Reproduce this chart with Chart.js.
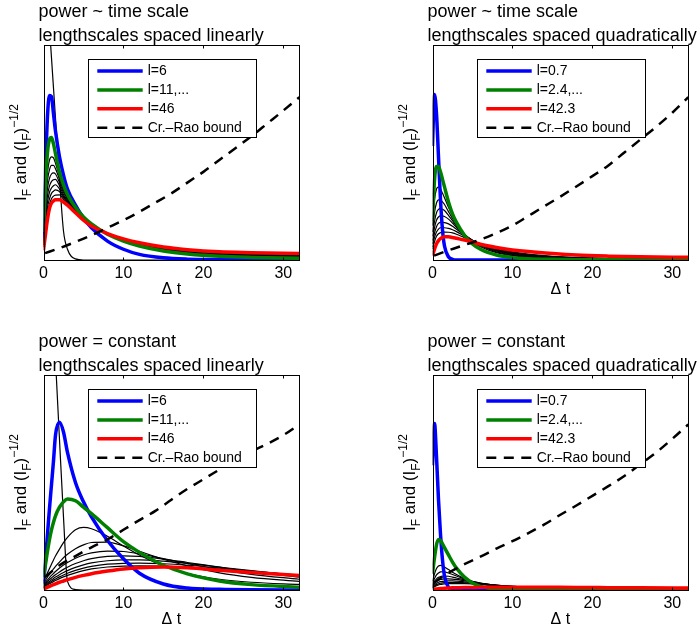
<!DOCTYPE html>
<html>
<head>
<meta charset="utf-8">
<script src="https://cdn.jsdelivr.net/npm/chart.js@4.4.0/dist/chart.umd.min.js"></script>
<style>
body { margin: 0; background: #fff; }
#wrap { position: relative; width: 700px; height: 632px; overflow: hidden; background: #fff; }
canvas { position: absolute; }
</style>
</head>
<body>
<div id="wrap">
<canvas id="c1" width="311" height="302" style="left:0px;top:0px"></canvas>
<canvas id="c2" width="311" height="302" style="left:389px;top:0px"></canvas>
<canvas id="c3" width="311" height="302" style="left:0px;top:330px"></canvas>
<canvas id="c4" width="311" height="302" style="left:389px;top:330px"></canvas>
</div>
<script>
// delta t samples for the I_F curves, and for the Cramer-Rao bound
const dt = [0, 0.25, 0.5, 0.75, 1, 1.25, 1.5, 2, 2.5, 3, 4, 5, 6, 8, 10, 12, 15, 18, 22, 26, 32];
const dtBound = [0.2, 2, 4, 6, 8, 10, 12, 14, 16, 18, 20, 22, 24, 26, 28, 30, 32];
const xTicks = [0, 10, 20, 30];

const labelsLinear = ['l=6', 'l=11,...', 'l=46', 'Cr.\u2013Rao bound'];
const labelsQuad = ['l=0.7', 'l=2.4,...', 'l=42.3', 'Cr.\u2013Rao bound'];
const titleTL = ['power ~ time scale', 'lengthscales spaced linearly'];
const titleTR = ['power ~ time scale', 'lengthscales spaced quadratically'];
const titleBL = ['power = constant', 'lengthscales spaced linearly'];
const titleBR = ['power = constant', 'lengthscales spaced quadratically'];

// top left: power ~ time scale, linear spacing
const tlBlue = [10, 42, 67, 76.5, 76, 68, 60, 48, 39.5, 33, 25.5, 19.5, 15, 8.8, 5, 2.6, 1, 0.4, 0.2, 0.1, 0.1];
const tlGreen = [13, 35, 50, 56, 57, 54, 49.5, 41, 35, 30.5, 24.5, 20, 16.8, 12, 8.8, 6.5, 4.2, 2.8, 1.7, 1.2, 0.8];
const tlRed = [4.5, 12, 19, 24, 26.5, 27.5, 28, 28, 27, 25.5, 22, 18.5, 15.8, 12.3, 9.8, 8, 6, 4.8, 3.8, 3.4, 3.0];
const tlSteep = [150, 136, 122, 108, 94, 80, 66, 38, 13.5, 5, 0.5, 0, 0, 0, 0, 0, 0, 0, 0, 0, 0];
const tlBlack = [
    [12, 30, 41, 46.5, 48, 47.5, 45, 39, 33.5, 29.8, 24.2, 19.8, 16.6, 11.9, 8.8, 6.5, 4.2, 2.9, 1.9, 1.5, 1.2],
    [11, 27, 37, 42, 44, 44, 42.5, 37.5, 32.5, 29.2, 23.9, 19.6, 16.5, 11.95, 9, 6.8, 4.6, 3.2, 2.2, 1.7, 1.4],
    [10, 24, 33.5, 38, 40, 40.5, 40, 36, 31.5, 28.5, 23.6, 19.4, 16.4, 12, 9.2, 7, 4.9, 3.5, 2.5, 1.9, 1.6],
    [9, 21, 30, 34.5, 36.5, 37.3, 37.5, 34.5, 30.5, 27.9, 23.3, 19.2, 16.3, 12.05, 9.3, 7.2, 5.1, 3.8, 2.8, 2.2, 1.9],
    [8, 19, 27, 31.5, 33.5, 34.5, 35, 33, 29.7, 27.3, 23, 19, 16.2, 12.1, 9.4, 7.3, 5.3, 4, 3, 2.4, 2.1],
    [7, 17, 24.5, 28.5, 31, 32, 32.6, 31.8, 29, 26.7, 22.7, 18.9, 16.1, 12.15, 9.4, 7.4, 5.4, 4.2, 3.2, 2.6, 2.3],
    [6, 15, 22, 26, 28.5, 29.7, 30.2, 30.3, 28.2, 26.1, 22.4, 18.7, 16, 12.2, 9.5, 7.5, 5.5, 4.3, 3.4, 2.8, 2.5]
];
const tlBound = [3.2, 5.5, 8.4, 11.5, 15, 18.5, 22.4, 26.7, 31, 36, 41, 46.5, 52, 57.5, 63.5, 69.5, 75.7];

// top right: power ~ time scale, quadratic spacing
const trBlue = [53, 77, 68, 48, 28, 14, 6.5, 1.5, 0.3, 0, 0, 0, 0, 0, 0, 0, 0, 0, 0, 0, 0];
const trGreen = [18, 37, 43.5, 43.5, 41, 37.5, 34, 27, 21.5, 17.5, 11.5, 7.5, 5, 2.3, 1.1, 0.6, 0.3, 0.15, 0.1, 0.05, 0];
const trRed = [2, 5, 7.5, 9, 10, 10.5, 10.8, 10.8, 10.5, 10.1, 9.3, 8.4, 7.3, 5.8, 4.7, 3.9, 3.0, 2.3, 1.8, 1.5, 1.25];
const trBlack = [
    [16, 28, 33, 34, 33, 31, 29, 24.5, 20.5, 17, 12, 8.5, 6.2, 3.4, 2, 1.3, 0.7, 0.45, 0.3, 0.2, 0.15],
    [13, 22, 26.5, 28, 28, 27, 25.8, 22.5, 19.3, 16.4, 12, 8.9, 6.6, 3.8, 2.3, 1.5, 0.85, 0.55, 0.35, 0.25, 0.2],
    [11, 18, 22, 23.5, 24, 23.6, 23, 20.8, 18.3, 15.8, 11.9, 9.1, 7, 4.2, 2.6, 1.7, 1, 0.65, 0.42, 0.3, 0.22],
    [9, 15, 18.5, 20, 20.5, 20.5, 20.2, 19, 17.2, 15.2, 11.8, 9.2, 7.2, 4.5, 2.9, 1.95, 1.15, 0.75, 0.5, 0.35, 0.25],
    [7.5, 12.5, 15.5, 17, 17.5, 17.5, 17.4, 16.8, 15.7, 14.3, 11.5, 9.2, 7.4, 4.8, 3.2, 2.2, 1.35, 0.9, 0.6, 0.42, 0.3],
    [6, 10.5, 13, 14.4, 15, 15, 15, 14.7, 14.1, 13.2, 11, 9.1, 7.5, 5.1, 3.5, 2.45, 1.55, 1.05, 0.7, 0.5, 0.35],
    [5, 8.5, 11, 12.2, 12.7, 13, 13, 12.9, 12.6, 12, 10.4, 8.9, 7.5, 5.3, 3.8, 2.7, 1.75, 1.2, 0.8, 0.6, 0.4]
];
const trBound = [2, 4.5, 7, 9.5, 12.5, 16, 20.5, 25, 29.5, 34.2, 39, 44, 50, 56, 62, 68.5, 75.7];

// bottom left: power = constant, linear spacing
const blBlue = [3, 14, 26, 38, 49, 60, 72, 78, 73.5, 64, 50, 41, 34, 23, 14.5, 7.8, 2.8, 0.9, 0.3, 0.1, 0.05];
const blGreen = [6, 12, 18, 23.5, 28, 31.5, 34.5, 38.5, 41, 42.3, 41.5, 38.5, 35.5, 29, 22.5, 17.5, 11.5, 7.5, 4.2, 2.5, 1.3];
const blRed = [0.5, 0.9, 1.3, 1.7, 2.1, 2.5, 2.9, 3.6, 4.2, 4.8, 5.9, 6.8, 7.6, 8.8, 9.8, 10.4, 10.7, 10.3, 9.2, 8.1, 6.8];
const blSteep = [216, 198, 180, 162, 144, 126, 107, 70, 34, 4, 0.2, 0, 0, 0, 0, 0, 0, 0, 0, 0, 0];
const blBlack = [
    [4, 6, 8, 10, 12, 14, 15.8, 19, 22, 24.5, 28, 29.1, 28.5, 25, 20.5, 16.3, 11.2, 7.8, 5, 3.6, 2.6],
    [3, 4.5, 6, 7.3, 8.6, 9.8, 11, 13, 15, 16.6, 19.2, 21, 22.1, 22.3, 20.5, 18, 14.3, 11.2, 8, 5.9, 4],
    [2.5, 3.6, 4.7, 5.8, 6.8, 7.7, 8.6, 10.2, 11.6, 12.8, 14.8, 16.3, 17.3, 18.1, 17.9, 16.8, 14.6, 12.3, 9.5, 7.3, 5],
    [2, 3, 3.9, 4.8, 5.6, 6.4, 7.1, 8.4, 9.6, 10.6, 12.3, 13.6, 14.6, 15.6, 15.9, 15.6, 14.4, 12.8, 10.6, 8.5, 6],
    [1.7, 2.5, 3.3, 4, 4.7, 5.4, 6, 7.1, 8.1, 9, 10.5, 11.7, 12.6, 13.6, 14, 14, 13.4, 12.4, 10.7, 9, 6.6],
    [1.4, 2.1, 2.8, 3.4, 4, 4.6, 5.1, 6.1, 7, 7.8, 9.1, 10.2, 11, 12, 12.4, 12.5, 12.2, 11.5, 10.2, 8.8, 6.8],
    [1.1, 1.7, 2.3, 2.9, 3.4, 3.9, 4.4, 5.3, 6.1, 6.8, 8, 9, 9.8, 10.7, 11.1, 11.2, 11.1, 10.6, 9.6, 8.5, 6.9]
];
const blBound = [6, 11.5, 15.8, 19.8, 23.5, 28, 32.5, 36.8, 42, 47, 51.5, 56, 60.5, 64.5, 68, 72, 77];

// bottom right: power = constant, quadratic spacing
const brBlue = [58, 77.5, 62, 42, 26, 14, 6.5, 1.2, 0.2, 0, 0, 0, 0, 0, 0, 0, 0, 0, 0, 0, 0];
const brGreen = [7.5, 15, 21, 23.5, 23, 21.5, 19.7, 16.3, 13, 10.2, 6, 3.3, 1.7, 0.4, 0.1, 0, 0, 0, 0, 0, 0];
const brRed = [0.3, 0.4, 0.5, 0.6, 0.7, 0.75, 0.8, 0.9, 1, 1.05, 1.15, 1.2, 1.25, 1.3, 1.3, 1.3, 1.25, 1.2, 1.1, 1.0, 0.9];
const brBlack = [
    [4, 7.5, 10, 11.2, 11.5, 11.2, 10.7, 9.5, 8.3, 7.2, 5.3, 3.9, 2.9, 1.6, 0.9, 0.55, 0.3, 0.17, 0.1, 0.06, 0.04],
    [3, 5.3, 7, 7.9, 8.4, 8.5, 8.4, 7.9, 7.2, 6.5, 5.1, 4, 3.1, 1.9, 1.2, 0.75, 0.42, 0.26, 0.15, 0.1, 0.06],
    [2.3, 4, 5.2, 5.9, 6.3, 6.5, 6.5, 6.4, 6, 5.6, 4.7, 3.9, 3.2, 2.1, 1.4, 0.95, 0.55, 0.35, 0.2, 0.13, 0.08],
    [1.8, 3.1, 4, 4.6, 4.9, 5.1, 5.2, 5.2, 5.1, 4.9, 4.3, 3.7, 3.1, 2.2, 1.55, 1.1, 0.68, 0.43, 0.26, 0.17, 0.1],
    [1.4, 2.4, 3.1, 3.6, 3.9, 4.05, 4.15, 4.2, 4.2, 4.1, 3.8, 3.4, 3, 2.25, 1.65, 1.2, 0.8, 0.52, 0.32, 0.21, 0.13],
    [1.1, 1.9, 2.5, 2.9, 3.15, 3.3, 3.4, 3.5, 3.5, 3.5, 3.35, 3.1, 2.8, 2.2, 1.7, 1.3, 0.88, 0.6, 0.38, 0.26, 0.16],
    [0.9, 1.5, 2, 2.4, 2.6, 2.75, 2.85, 2.95, 3, 3, 2.95, 2.8, 2.6, 2.15, 1.7, 1.35, 0.95, 0.67, 0.44, 0.3, 0.19]
];
const brBound = [3.5, 8, 12, 15.5, 19.3, 22.7, 26.5, 30.5, 35, 39.3, 43.8, 48.3, 53, 58.5, 64, 70.3, 77];

const FONT = '"Liberation Sans", Arial, Helvetica, sans-serif';

function pts(xs, ys) {
    return xs.map((x, i) => ({ x: x, y: ys[i] }));
}

// text pieces of "I_F and (I_F)^{-1/2}": [text, size, baseline shift]
function drawYLabel(ctx, cx, cy) {
    const parts = [['I', 17, 0], ['F', 12, 5], [' and (', 17, 0], ['I', 17, 0], ['F', 12, 5], [')', 17, 0], ['\u22121/2', 12, -8]];
    let total = 0;
    for (const p of parts) {
        ctx.font = p[1] + 'px ' + FONT;
        total += ctx.measureText(p[0]).width;
    }
    ctx.save();
    ctx.translate(cx, cy);
    ctx.rotate(-Math.PI / 2);
    ctx.textBaseline = 'alphabetic';
    ctx.textAlign = 'left';
    let u = -total / 2;
    for (const p of parts) {
        ctx.font = p[1] + 'px ' + FONT;
        ctx.fillText(p[0], u, 6 + p[2]);
        u += ctx.measureText(p[0]).width;
    }
    ctx.restore();
}

const panelDecor = {
    id: 'panelDecor',
    afterDraw(chart, args, opts) {
        const ctx = chart.ctx;
        const a = chart.chartArea;
        ctx.save();
        ctx.strokeStyle = '#000';
        ctx.fillStyle = '#000';
        ctx.lineWidth = 1;
        ctx.setLineDash([]);

        // axes box + inward ticks on top and bottom
        const L = Math.round(a.left) + 0.5, T = Math.round(a.top) + 0.5;
        const R = Math.round(a.right) + 0.5, B = Math.round(a.bottom) + 0.5;
        ctx.strokeRect(L, T, R - L, B - T);
        const xs = chart.scales.x;
        ctx.beginPath();
        xs.ticks.forEach(t => {
            const px = Math.round(xs.getPixelForValue(t.value)) + 0.5;
            ctx.moveTo(px, B); ctx.lineTo(px, B - 3);
            ctx.moveTo(px, T); ctx.lineTo(px, T + 3);
        });
        ctx.stroke();

        // two line title
        ctx.font = '18px ' + FONT;
        ctx.textAlign = 'left';
        ctx.textBaseline = 'alphabetic';
        ctx.fillText(opts.title[0], a.left - 5, a.top - 28.5);
        ctx.fillText(opts.title[1], a.left - 5, a.top - 4.5);

        drawYLabel(ctx, a.left - 24, (a.top + a.bottom) / 2);

        // legend box
        const bx = a.left + 44.2, by = a.top + 14.3, bw = 168.3, bh = 78.4;
        ctx.fillStyle = '#fff';
        ctx.fillRect(bx, by, bw, bh);
        ctx.strokeRect(Math.round(bx) + 0.5, Math.round(by) + 0.5, Math.round(bw), Math.round(bh));
        ctx.font = '14px ' + FONT;
        ctx.textBaseline = 'middle';
        opts.legend.forEach((lbl, i) => {
            const ds = chart.data.datasets.find(d => d.label === lbl);
            const ry = by + 11.7 + i * 18.9;
            ctx.beginPath();
            ctx.strokeStyle = ds.borderColor;
            ctx.lineWidth = ds.borderWidth;
            ctx.setLineDash(ds.borderDash || []);
            ctx.moveTo(bx + 9.6, ry);
            ctx.lineTo(bx + 55, ry);
            ctx.stroke();
            ctx.setLineDash([]);
            ctx.fillStyle = '#000';
            ctx.fillText(lbl, bx + 60, ry + 0.5);
        });
        ctx.restore();
    }
};

function makePanel(id, title, labels, blue, green, red, blacks, steep, bound) {
    const datasets = [];
    datasets.push({ label: labels[3], data: pts(dtBound, bound), borderColor: '#000000', borderWidth: 2.5, borderDash: [10, 7.5] });
    datasets.push({ label: labels[2], data: pts(dt, red), borderColor: '#ff0000', borderWidth: 3.5 });
    datasets.push({ label: labels[1], data: pts(dt, green), borderColor: '#008000', borderWidth: 3.5 });
    datasets.push({ label: labels[0], data: pts(dt, blue), borderColor: '#0000ff', borderWidth: 3.5 });
    if (steep) {
        datasets.push({ label: '', data: pts(dt, steep), borderColor: '#000000', borderWidth: 1.2 });
    }
    for (const b of blacks) {
        datasets.push({ label: '', data: pts(dt, b), borderColor: '#000000', borderWidth: 1.2 });
    }
    const ctx = document.getElementById(id).getContext('2d');
    return new Chart(ctx, {
        type: 'line',
        data: { datasets: datasets },
        plugins: [panelDecor],
        options: {
            responsive: false,
            animation: false,
            events: [],
            layout: { padding: { left: 43.5, top: 45, right: 11.7, bottom: 4.5 } },
            elements: {
                point: { radius: 0 },
                line: { cubicInterpolationMode: 'monotone', fill: false, borderJoinStyle: 'round' }
            },
            plugins: {
                legend: { display: false },
                tooltip: { enabled: false },
                panelDecor: { title: title, legend: labels }
            },
            scales: {
                x: {
                    type: 'linear', min: 0, max: 32,
                    afterBuildTicks: s => { s.ticks = xTicks.map(v => ({ value: v })); },
                    ticks: { color: '#000', maxRotation: 0, padding: 6, font: { family: FONT, size: 16, lineHeight: 1 } },
                    grid: { display: false, drawTicks: false },
                    border: { display: false },
                    title: { display: true, text: '\u0394 t', color: '#000', padding: { top: -6.5, bottom: 0 }, font: { family: FONT, size: 16, lineHeight: 1 } }
                },
                y: { display: false, min: 0, max: 100 }
            }
        }
    });
}

makePanel('c1', titleTL, labelsLinear, tlBlue, tlGreen, tlRed, tlBlack, tlSteep, tlBound);
makePanel('c2', titleTR, labelsQuad, trBlue, trGreen, trRed, trBlack, null, trBound);
makePanel('c3', titleBL, labelsLinear, blBlue, blGreen, blRed, blBlack, blSteep, blBound);
makePanel('c4', titleBR, labelsQuad, brBlue, brGreen, brRed, brBlack, null, brBound);
</script>
</body>
</html>
